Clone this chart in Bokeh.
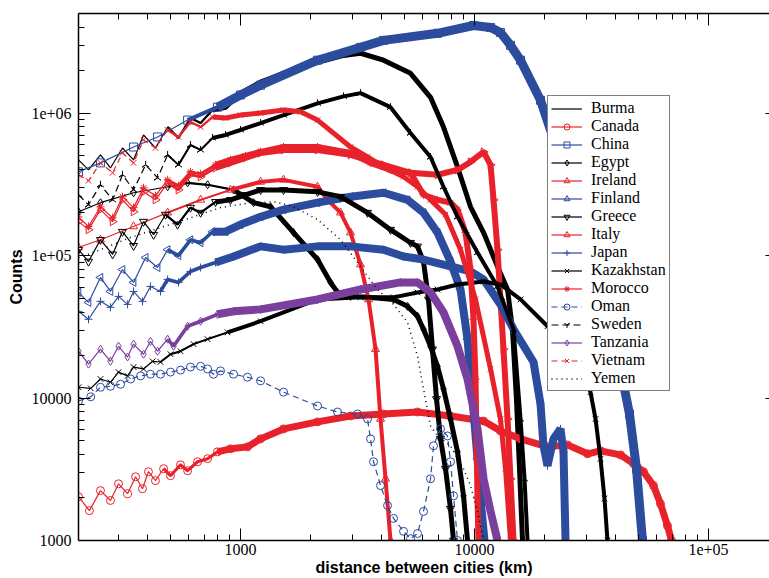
import numpy as np
from bokeh.plotting import figure
from bokeh.models import Legend, LegendItem, LogAxis, FixedTicker
from bokeh.embed import file_html
from bokeh.resources import INLINE

# ---------------- data ----------------
burma_x = [203, 224, 252, 278, 313, 349, 385, 433, 488, 543, 611, 675, 759, 863, 1000, 1218, 1527, 2134, 2756, 3257, 4085, 5327, 6486, 7370, 8461, 9614, 10930, 12540, 13840, 14530, 15110, 15570, 16040]
burma_y = [4.69e5, 3.99e5, 5.09e5, 4.12e5, 5.69e5, 4.69e5, 7.02e5, 5.69e5, 7.98e5, 6.69e5, 9.23e5, 8.51e5, 1.05e6, 1.10e6, 1.38e6, 1.65e6, 1.90e6, 2.27e6, 2.54e6, 2.63e6, 2.35e6, 1.90e6, 1.29e6, 7.98e5, 4.19e5, 2.20e5, 1.45e5, 8.38e4, 5.78e4, 3.04e4, 9.84e3, 3.19e3, 1000]

canada_x = [203, 226, 252, 278, 301, 329, 356, 381, 404, 433, 469, 502, 554, 594, 655, 723, 797, 906, 1071, 1218, 1527, 2134, 2952, 4085, 5707, 7896, 10930, 12910, 15730, 20510, 24970, 30410, 34560, 42070, 47800, 52750, 58210, 62350, 66800, 69500]
canada_y = [2.03e3, 1.62e3, 2.24e3, 1.91e3, 2.50e3, 2.13e3, 2.80e3, 2.31e3, 3.04e3, 2.63e3, 3.19e3, 2.85e3, 3.40e3, 3.09e3, 3.57e3, 3.75e3, 4.19e3, 4.40e3, 4.54e3, 5.17e3, 6.07e3, 6.80e3, 7.48e3, 7.73e3, 7.98e3, 7.48e3, 6.90e3, 5.88e3, 5.17e3, 4.54e3, 4.69e3, 4.06e3, 4.26e3, 3.99e3, 3.46e3, 3.04e3, 2.43e3, 1.81e3, 1.27e3, 1000]

china_x = [203, 252, 349, 442, 594, 797, 1000, 1218, 2134, 3257, 4085, 6949, 9902, 11710, 12910, 14250, 15730, 19150, 23310, 28380, 34560, 40060, 45960, 49240, 52230]
china_y = [3.87e5, 4.47e5, 5.78e5, 6.80e5, 8.93e5, 1.10e6, 1.34e6, 1.57e6, 2.35e6, 2.89e6, 3.24e6, 3.63e6, 4.12e6, 3.99e6, 3.68e6, 2.99e6, 2.35e6, 1.23e6, 4.69e5, 1.65e5, 5.78e4, 2.39e4, 7.73e3, 3.19e3, 1000]

egypt_x = [203, 252, 349, 488, 594, 723, 934, 1137, 1344, 1685, 2134, 2425, 2597, 2952, 3489, 4507, 5172, 5707, 6053, 6486, 6949, 7370, 7896, 8461, 8974, 9335]
egypt_y = [2.03e5, 2.35e5, 2.76e5, 3.04e5, 3.24e5, 3.14e5, 2.89e5, 2.35e5, 2.20e5, 1.45e5, 9.38e4, 6.48e4, 5.51e4, 5.17e4, 5.09e4, 4.92e4, 4.40e4, 3.75e4, 3.04e4, 2.31e4, 1.67e4, 1.16e4, 7.13e3, 4.19e3, 2.06e3, 1000]

ireland_x = [203, 252, 349, 488, 675, 906, 1218, 1527, 2134, 2354, 2675, 2952, 3257, 3524, 3776, 3966, 4166, 4375]
ireland_y = [1.14e5, 1.29e5, 1.60e5, 2.00e5, 2.46e5, 2.89e5, 3.29e5, 3.40e5, 3.04e5, 2.46e5, 2.00e5, 1.45e5, 8.65e4, 4.92e4, 2.20e4, 7.13e3, 2.71e3, 1000]

finland_x = [203, 224, 252, 278, 313, 349, 393, 442, 488, 543, 611, 675, 759, 863, 1000, 1218, 1527, 2134, 2952, 4085, 5172, 6053, 6949, 7896, 8714, 9335, 9806, 10300, 10710, 11030]
finland_y = [5.51e4, 4.69e4, 7.02e4, 5.60e4, 7.98e4, 6.48e4, 9.68e4, 8.24e4, 1.10e5, 1.00e5, 1.29e5, 1.23e5, 1.47e5, 1.47e5, 1.65e5, 1.87e5, 2.10e5, 2.35e5, 2.59e5, 2.76e5, 2.46e5, 2.00e5, 1.45e5, 9.08e4, 5.78e4, 2.59e4, 9.84e3, 3.75e3, 1.67e3, 1000]

greece_x = [203, 224, 252, 284, 313, 349, 385, 425, 478, 538, 611, 675, 782, 906, 1050, 1218, 1527, 2134, 2675, 3489, 4375, 5327, 5707, 6053, 6360, 6614, 6881, 7156, 7517, 7896, 8135]
greece_y = [1.10e5, 9.08e4, 1.29e5, 1.02e5, 1.47e5, 1.17e5, 1.73e5, 1.40e5, 1.94e5, 1.65e5, 2.17e5, 2.00e5, 2.38e5, 2.46e5, 2.67e5, 2.89e5, 2.89e5, 2.80e5, 2.59e5, 2.00e5, 1.52e5, 1.23e5, 1.16e5, 9.08e4, 4.92e4, 2.20e4, 9.84e3, 5.17e3, 3.19e3, 1.67e3, 1000]

italy_x = [203, 224, 252, 284, 313, 349, 385, 433, 488, 543, 611, 675, 782, 906, 1050, 1218, 1527, 2134, 2952, 4085, 5327, 6949, 8461, 9614, 10930, 11710, 12060, 12540, 12910, 13300, 13840, 14250, 14680]
italy_y = [1.73e5, 1.52e5, 2.10e5, 1.73e5, 2.46e5, 2.03e5, 2.80e5, 2.46e5, 3.24e5, 2.89e5, 3.69e5, 3.57e5, 4.12e5, 4.47e5, 4.85e5, 5.25e5, 5.51e5, 5.51e5, 5.09e5, 4.33e5, 3.81e5, 3.69e5, 3.99e5, 4.54e5, 5.34e5, 4.33e5, 2.46e5, 1.10e5, 4.92e4, 2.20e4, 7.13e3, 2.71e3, 1000]

japan_x = [203, 224, 252, 278, 301, 329, 349, 381, 412, 455, 488, 543, 611, 675, 782, 934, 1218, 1527, 2134, 2952, 4085, 4973, 6053, 7896, 9614, 10930, 12910, 14680, 17870, 19150, 19720, 20510, 21760, 23310, 24010, 24490]
japan_y = [4.06e4, 3.57e4, 4.77e4, 4.33e4, 5.17e4, 4.54e4, 5.60e4, 4.77e4, 6.07e4, 5.60e4, 6.80e4, 6.48e4, 7.73e4, 8.24e4, 8.94e4, 9.84e4, 1.16e5, 1.10e5, 1.16e5, 1.16e5, 1.10e5, 9.84e4, 9.38e4, 8.38e4, 7.73e4, 6.80e4, 4.54e4, 3.04e4, 1.79e4, 9.08e3, 4.62e3, 3.35e3, 5.17e3, 6.07e3, 4.19e3, 1000]

kazakhstan_x = [203, 229, 252, 278, 301, 329, 349, 385, 421, 455, 502, 554, 630, 723, 880, 1218, 2134, 3257, 4507, 5707, 6949, 8461, 10930, 12910, 15730, 20510, 25730, 31310, 32900, 34560, 35940, 37010]
kazakhstan_y = [1.19e4, 1.17e4, 1.36e4, 1.29e4, 1.52e4, 1.43e4, 1.65e4, 1.60e4, 1.81e4, 1.79e4, 2.03e4, 2.13e4, 2.39e4, 2.59e4, 2.89e4, 3.46e4, 4.92e4, 5.09e4, 5.09e4, 5.51e4, 5.78e4, 6.27e4, 6.58e4, 6.27e4, 4.92e4, 3.19e4, 2.20e4, 1.10e4, 7.13e3, 3.75e3, 1.97e3, 1000]

morocco_x = [203, 224, 252, 284, 313, 349, 385, 433, 488, 543, 611, 675, 782, 906, 1050, 1218, 1527, 2134, 2952, 3594, 4375, 5327, 6053, 6949, 7896, 8461, 9152, 9614, 9902, 10100, 10200, 10300, 10400]
morocco_y = [1.87e5, 1.60e5, 2.20e5, 1.84e5, 2.59e5, 2.17e5, 2.99e5, 2.63e5, 3.40e5, 3.09e5, 3.87e5, 3.75e5, 4.33e5, 4.69e5, 5.00e5, 5.34e5, 5.78e5, 5.78e5, 5.25e5, 4.47e5, 3.99e5, 3.81e5, 2.67e5, 2.46e5, 2.35e5, 2.10e5, 1.45e5, 7.98e4, 3.57e4, 1.36e4, 5.17e3, 1.97e3, 1000]

oman_x = [203, 229, 252, 278, 307, 339, 374, 412, 455, 502, 554, 611, 675, 723, 766, 821, 934, 1071, 1218, 1527, 2134, 2597, 3162, 3489, 3594, 3702, 3966, 4249, 4507, 4973, 5327, 5707, 6053, 6486, 6680, 7156, 7666, 7896, 8135, 8461]
oman_y = [9.53e3, 1.02e4, 1.19e4, 1.21e4, 1.25e4, 1.36e4, 1.43e4, 1.47e4, 1.47e4, 1.52e4, 1.57e4, 1.65e4, 1.67e4, 1.60e4, 1.47e4, 1.55e4, 1.47e4, 1.40e4, 1.32e4, 1.10e4, 8.79e3, 7.98e3, 7.73e3, 7.13e3, 5.17e3, 3.57e3, 2.43e3, 1.76e3, 1.43e3, 1.16e3, 1.03e3, 1.12e3, 1.60e3, 2.71e3, 4.62e3, 6.07e3, 5.42e3, 3.57e3, 2.06e3, 1000]

sweden_x = [203, 224, 252, 284, 313, 349, 393, 442, 488, 543, 611, 675, 759, 863, 1000, 1218, 1527, 2134, 2756, 3257, 4375, 5327, 6486, 7370, 8461, 10300, 12540, 14680, 15730, 16360, 16850]
sweden_y = [2.67e5, 2.27e5, 3.14e5, 2.46e5, 3.69e5, 2.89e5, 4.33e5, 3.51e5, 5.09e5, 4.33e5, 5.97e5, 5.51e5, 6.69e5, 7.02e5, 7.61e5, 8.51e5, 9.68e5, 1.17e6, 1.31e6, 1.38e6, 1.10e6, 7.25e5, 4.92e5, 3.04e5, 1.87e5, 1.05e5, 6.07e4, 3.04e4, 7.13e3, 2.71e3, 1000]

tanzania_x = [203, 224, 252, 278, 301, 329, 349, 385, 412, 442, 488, 517, 594, 675, 797, 934, 1218, 2134, 3257, 4829, 5707, 6486, 7370, 8461, 9335, 10300, 10930, 11710, 12540]
tanzania_y = [2.13e4, 1.73e4, 2.20e4, 1.81e4, 2.31e4, 1.94e4, 2.39e4, 2.03e4, 2.50e4, 2.13e4, 2.59e4, 2.31e4, 3.19e4, 3.46e4, 3.87e4, 4.06e4, 4.19e4, 4.92e4, 5.78e4, 6.48e4, 6.48e4, 5.51e4, 3.99e4, 2.31e4, 1.36e4, 6.07e3, 2.71e3, 1.60e3, 1000]

vietnam_x = [203, 224, 252, 284, 313, 349, 385, 433, 488, 543, 611, 675, 759, 863, 1000, 1218, 1527, 1805, 2134, 2952, 3489, 4085, 4973, 5707, 6486, 7517, 8714, 10100, 11710, 12910, 13570, 14250]
vietnam_y = [3.69e5, 3.35e5, 4.47e5, 3.81e5, 5.25e5, 4.47e5, 6.48e5, 5.69e5, 7.61e5, 6.80e5, 8.65e5, 7.98e5, 9.38e5, 9.23e5, 9.68e5, 1.00e6, 1.05e6, 1.02e6, 8.93e5, 5.78e5, 4.92e5, 4.19e5, 3.57e5, 3.04e5, 2.46e5, 1.94e5, 1.10e5, 4.92e4, 1.60e4, 7.13e3, 3.19e3, 1000]

yemen_x = [203, 252, 339, 455, 611, 821, 1103, 1411, 1685, 2134, 2675, 3257, 3850, 4507, 5172, 5707, 6053, 6486, 6949, 7896, 8461, 8974, 9614, 10300, 10930]
yemen_y = [9.68e4, 1.10e5, 1.34e5, 1.57e5, 1.84e5, 2.17e5, 2.35e5, 2.38e5, 2.20e5, 1.79e5, 1.29e5, 8.38e4, 5.78e4, 4.54e4, 3.40e4, 1.97e4, 1.16e4, 6.37e3, 5.42e3, 4.62e3, 3.75e3, 3.19e3, 2.43e3, 1.60e3, 1000]

x_tick_values = [1000, 10000, 100000]
x_tick_labels = ["1000", "10000", "1e+05"]
y_tick_values = [1000, 10000, 100000, 1000000]
y_tick_labels = ["1000", "10000", "1e+05", "1e+06"]

# ---------------- styles ----------------
RED = "#e8222b"
BLUE = "#2c4c9e"
PURPLE = "#7b3f9e"
BLACK = "#000000"

series = [
    ("Burma", burma_x, burma_y, dict(color=BLACK, marker=None, dash="solid", band=5)),
    ("Canada", canada_x, canada_y, dict(color=RED, marker="circle", dash="solid", band=7)),
    ("China", china_x, china_y, dict(color=BLUE, marker="square", dash="solid", band=9)),
    ("Egypt", egypt_x, egypt_y, dict(color=BLACK, marker="diamond", dash="solid", band=5)),
    ("Ireland", ireland_x, ireland_y, dict(color=RED, marker="triangle", dash="solid", band=4)),
    ("Finland", finland_x, finland_y, dict(color=BLUE, marker="triangle", angle=np.pi / 2, dash="solid", band=8)),
    ("Greece", greece_x, greece_y, dict(color=BLACK, marker="inverted_triangle", dash="solid", band=5)),
    ("Italy", italy_x, italy_y, dict(color=RED, marker="triangle", angle=-np.pi / 2, dash="solid", band=6)),
    ("Japan", japan_x, japan_y, dict(color=BLUE, marker="cross", dash="solid", band=8)),
    ("Kazakhstan", kazakhstan_x, kazakhstan_y, dict(color=BLACK, marker="x", dash="solid", band=4)),
    ("Morocco", morocco_x, morocco_y, dict(color=RED, marker="asterisk", dash="solid", band=6)),
    ("Oman", oman_x, oman_y, dict(color=BLUE, marker="circle", dash="6 4", band=0)),
    ("Sweden", sweden_x, sweden_y, dict(color=BLACK, marker="y", angle=np.pi, dash="7 4", band=4)),
    ("Tanzania", tanzania_x, tanzania_y, dict(color=PURPLE, marker="diamond", dash="solid", band=8)),
    ("Vietnam", vietnam_x, vietnam_y, dict(color=RED, marker="x", dash="6 4", band=5)),
    ("Yemen", yemen_x, yemen_y, dict(color=BLACK, marker=None, dash="1 4", band=0)),
]

p = figure(width=769, height=578, x_axis_type="log", y_axis_type="log",
           x_range=(203, 182300), y_range=(1000, 5.0e6),
           output_backend="svg", toolbar_location=None,
           min_border_left=78, min_border_right=0, min_border_top=13, min_border_bottom=36)
p.grid.visible = False
p.outline_line_color = None
p.background_fill_color = "white"
p.border_fill_color = "white"

x_minor = [k * 10 ** e for e in range(2, 6) for k in range(2, 10)]
y_minor = [k * 10 ** e for e in range(3, 7) for k in range(2, 10)]


def style_axis(ax, ticks, minor, labels, show_labels):
    ax.ticker = FixedTicker(ticks=ticks, minor_ticks=minor)
    ax.major_tick_in = 12
    ax.major_tick_out = 0
    ax.minor_tick_in = 6
    ax.minor_tick_out = 0
    ax.axis_line_width = 1.5
    ax.major_tick_line_width = 1
    ax.minor_tick_line_width = 1
    ax.axis_line_color = "black"
    ax.major_tick_line_color = "black"
    ax.minor_tick_line_color = "black"
    ax.major_label_overrides = dict(zip(ticks, labels))
    if show_labels:
        ax.major_label_text_font = "Liberation Serif"
        ax.major_label_text_font_size = "16px"
        ax.major_label_text_color = "black"
        ax.axis_label_text_font = "Liberation Sans"
        ax.axis_label_text_font_style = "bold"
        ax.axis_label_text_font_size = "16px"
        ax.axis_label_text_color = "black"
    else:
        ax.major_label_text_font_size = "1px"
        ax.major_label_text_alpha = 0.0
        ax.major_label_standoff = 0


xa = p.xaxis[0]
style_axis(xa, x_tick_values, x_minor, x_tick_labels, True)
xa.axis_label = "distance between cities (km)"
xa.major_label_standoff = 3
xa.axis_label_standoff = 1

ya = p.yaxis[0]
style_axis(ya, y_tick_values, y_minor, y_tick_labels, True)
ya.axis_label = "Counts"
ya.major_label_standoff = 7
ya.axis_label_standoff = 3

top = LogAxis()
style_axis(top, x_tick_values, x_minor, x_tick_labels, False)
p.add_layout(top, "above")
right = LogAxis()
style_axis(right, y_tick_values, y_minor, y_tick_labels, False)
right.axis_line_color = None
right.major_tick_in = 4
right.minor_tick_in = 0
p.add_layout(right, "right")

items = []
for name, xs, ys, st in series:
    color = st["color"]
    rends = []
    band = st["band"]
    if band:
        # markers merge into a band where the bins get dense
        mx = [x for x in xs if x >= 450]
        my = [y for x, y in zip(xs, ys) if x >= 450]
        p.line(mx, my, line_color=color, line_width=max(2, band * 0.45))
        bx = [x for x in xs if x >= 750]
        by = [y for x, y in zip(xs, ys) if x >= 750]
        p.line(bx, by, line_color=color, line_width=band)
    lw = 1.5 if st["dash"] == "1 4" else 1.2
    r = p.line(xs, ys, line_color=color, line_width=lw, line_dash=st["dash"])
    rends.append(r)
    if st["marker"]:
        s = p.scatter(xs, ys, marker=st["marker"], size=8, line_color=color,
                      fill_color=None, line_width=1, angle=st.get("angle", 0.0))
        rends.append(s)
    items.append(LegendItem(label=name, renderers=rends))

legend = Legend(items=items, location=(469, 149),
                label_text_font="Liberation Serif", label_text_font_size="16px",
                label_text_color="black",
                glyph_width=31, glyph_height=15, label_height=15, label_standoff=9,
                spacing=0, padding=3, margin=0,
                border_line_color="black", border_line_width=1,
                background_fill_color="white", background_fill_alpha=1.0)
p.add_layout(legend)

open("out.html", "w").write(file_html(p, INLINE))
